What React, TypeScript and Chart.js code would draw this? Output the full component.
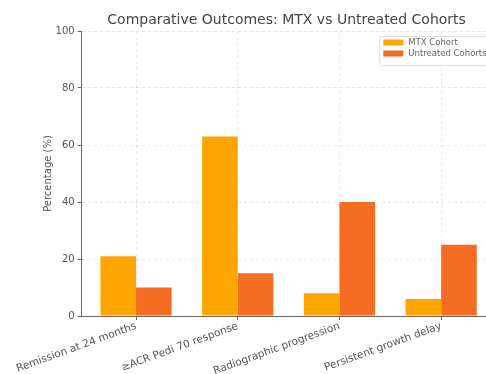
import React, { useEffect, useRef } from 'react';
import { Chart, registerables } from 'chart.js';

Chart.register(...registerables);

const categories = [
  'Remission at 24 months',
  '≥ACR Pedi 70 response',
  'Radiographic progression',
  'Persistent growth delay',
];
const mtxValues = [21, 63, 8, 6];
const untreatedValues = [10, 15, 40, 25];
const yTicks = [0, 20, 40, 60, 80, 100];
const seriesLabels = ['MTX Cohort', 'Untreated Cohorts'];
const seriesColors = ['#FFA500', '#F46D22'];
const chartTitle = 'Comparative Outcomes: MTX vs Untreated Cohorts';
const yTitle = 'Percentage (%)';

const FONT = '"DejaVu Sans", sans-serif';

const overlayPlugin = {
  id: 'overlay',
  afterDraw(chart: any) {
    const { ctx, chartArea } = chart;
    ctx.save();
    // title
    ctx.fillStyle = '#444';
    ctx.font = `14px ${FONT}`;
    ctx.textAlign = 'center';
    ctx.textBaseline = 'middle';
    ctx.fillText(chartTitle, (chartArea.left + chartArea.right) / 2 - 2, 20);

    // legend (upper right, inside axes)
    const fs = 8.5;
    ctx.font = `${fs}px ${FONT}`;
    const datasets = chart.data.datasets;
    let maxW = 0;
    datasets.forEach((d: any) => {
      maxW = Math.max(maxW, ctx.measureText(d.label).width);
    });
    const handleW = 20;
    const frameW = 4 + handleW + 5 + maxW + 4;
    const frameRight = chartArea.right - 5;
    const frameLeft = frameRight - frameW;
    const frameTop = chartArea.top + 5;
    const rowH = 11;
    const frameH = 4 + rowH * datasets.length + 3;
    ctx.fillStyle = 'rgba(255,255,255,0.85)';
    ctx.strokeStyle = '#dddddd';
    ctx.lineWidth = 1;
    ctx.beginPath();
    (ctx as any).roundRect(frameLeft + 0.5, frameTop + 0.5, frameW, frameH, 2);
    ctx.fill();
    ctx.stroke();
    datasets.forEach((d: any, i: number) => {
      const cy = frameTop + 6.5 + rowH * i;
      ctx.fillStyle = d.backgroundColor;
      ctx.fillRect(frameLeft + 4, cy - 3, handleW, 6);
      ctx.fillStyle = '#666';
      ctx.textAlign = 'left';
      ctx.textBaseline = 'middle';
      ctx.fillText(d.label, frameLeft + 4 + handleW + 5, cy);
    });
    ctx.restore();
  },
};

export default function App() {
  const canvasRef = useRef<HTMLCanvasElement>(null);

  useEffect(() => {
    if (!canvasRef.current) return;
    const chart = new Chart(canvasRef.current, {
      type: 'bar',
      data: {
        datasets: [
          {
            label: seriesLabels[0],
            data: mtxValues.map((v, i) => ({ x: i, y: v })),
            backgroundColor: seriesColors[0],
            borderWidth: 0,
          },
          {
            label: seriesLabels[1],
            data: untreatedValues.map((v, i) => ({ x: i, y: v })),
            backgroundColor: seriesColors[1],
            borderWidth: 0,
          },
        ],
      },
      options: {
        responsive: false,
        animation: false,
        devicePixelRatio: 1,
        layout: { padding: { left: 0, right: 4.4, top: 31, bottom: 0 } },
        datasets: {
          bar: { categoryPercentage: 0.7, barPercentage: 1.0 },
        },
        plugins: {
          legend: { display: false },
          title: { display: false },
          tooltip: { enabled: false },
        },
        scales: {
          x: {
            type: 'linear',
            offset: false,
            min: -0.535,
            max: 3.535,
            afterBuildTicks: (axis: any) => {
              axis.ticks = categories.map((_, i) => ({ value: i }));
            },
            afterFit: (axis: any) => {
              axis.height = 58;
            },
            ticks: {
              autoSkip: false,
              minRotation: 20,
              maxRotation: 20,
              padding: 0,
              color: '#555',
              font: { family: FONT, size: 10.5 },
              callback: (v: any) => categories[Math.round(v)] ?? '',
            },
            grid: {
              offset: false,
              color: 'rgba(0,0,0,0.10)',
              tickColor: '#666',
              tickLength: 4,
              drawTicks: true,
            },
            border: { display: true, color: '#666', width: 1, dash: [3, 3] },
          },
          y: {
            min: 0,
            max: 100,
            afterBuildTicks: (axis: any) => {
              axis.ticks = yTicks.map((v) => ({ value: v }));
            },
            afterFit: (axis: any) => {
              axis.width = 81.6;
            },
            ticks: {
              padding: 3,
              color: '#555',
              font: { family: FONT, size: 10 },
            },
            grid: {
              color: 'rgba(0,0,0,0.10)',
              tickColor: '#666',
              tickLength: 4,
            },
            border: { display: true, color: '#666', width: 1, dash: [3, 3] },
            title: {
              display: true,
              text: yTitle,
              color: '#555',
              font: { family: FONT, size: 10 },
              padding: { top: 42, bottom: 0 },
            },
          },
        },
      } as any,
      plugins: [overlayPlugin],
    });
    return () => chart.destroy();
  }, []);

  return (
    <div
      style={{
        position: 'fixed',
        left: 0,
        top: 0,
        width: 486,
        height: 374,
        overflow: 'hidden',
        background: '#fff',
      }}
    >
      <canvas ref={canvasRef} width={500} height={374} style={{ display: 'block' }} />
    </div>
  );
}
